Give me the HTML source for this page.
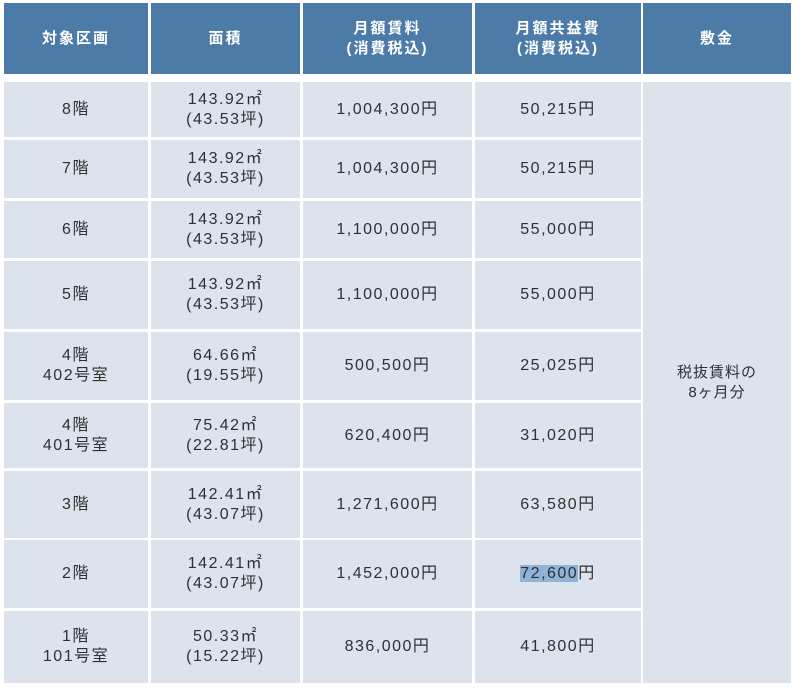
<!DOCTYPE html>
<html>
<head>
<meta charset="utf-8">
<style>
  html, body { margin: 0; padding: 0; background: #ffffff; }
  body { width: 800px; height: 689px; position: relative; overflow: hidden;
         font-family: "Liberation Sans", "Noto Sans CJK JP", sans-serif; }
  .c { position: absolute; display: flex; align-items: center; justify-content: center;
       text-align: center; box-sizing: border-box; }
  .h { background: #4b7ba6; color: #ffffff; font-weight: bold; font-size: 15px;
       letter-spacing: 2px; line-height: 20px; }
  .b { background: #dce3ed; color: #303030; font-size: 16px; letter-spacing: 1.5px;
       line-height: 20px; }
  .hl { background: #8fb3d6; }
</style>
</head>
<body>
<!-- header -->
<div class="c h" style="left:4px;top:3px;width:144px;height:71px;">対象区画</div>
<div class="c h" style="left:151px;top:3px;width:149px;height:71px;">面積</div>
<div class="c h" style="left:303px;top:3px;width:169px;height:71px;">月額賃料<br>(消費税込)</div>
<div class="c h" style="left:475px;top:3px;width:166px;height:71px;">月額共益費<br>(消費税込)</div>
<div class="c h" style="left:643px;top:3px;width:148px;height:71px;">敷金</div>

<!-- row 1 -->
<div class="c b" style="left:4px;top:82px;width:144px;height:55px;">8階</div>
<div class="c b" style="left:151px;top:82px;width:149px;height:55px;">143.92㎡<br>(43.53坪)</div>
<div class="c b" style="left:303px;top:82px;width:169px;height:55px;">1,004,300円</div>
<div class="c b" style="left:475px;top:82px;width:166px;height:55px;">50,215円</div>

<!-- row 2 -->
<div class="c b" style="left:4px;top:140px;width:144px;height:58px;">7階</div>
<div class="c b" style="left:151px;top:140px;width:149px;height:58px;">143.92㎡<br>(43.53坪)</div>
<div class="c b" style="left:303px;top:140px;width:169px;height:58px;">1,004,300円</div>
<div class="c b" style="left:475px;top:140px;width:166px;height:58px;">50,215円</div>

<!-- row 3 -->
<div class="c b" style="left:4px;top:201px;width:144px;height:57px;">6階</div>
<div class="c b" style="left:151px;top:201px;width:149px;height:57px;">143.92㎡<br>(43.53坪)</div>
<div class="c b" style="left:303px;top:201px;width:169px;height:57px;">1,100,000円</div>
<div class="c b" style="left:475px;top:201px;width:166px;height:57px;">55,000円</div>

<!-- row 4 -->
<div class="c b" style="left:4px;top:261px;width:144px;height:68px;">5階</div>
<div class="c b" style="left:151px;top:261px;width:149px;height:68px;">143.92㎡<br>(43.53坪)</div>
<div class="c b" style="left:303px;top:261px;width:169px;height:68px;">1,100,000円</div>
<div class="c b" style="left:475px;top:261px;width:166px;height:68px;">55,000円</div>

<!-- row 5 -->
<div class="c b" style="left:4px;top:332px;width:144px;height:68px;">4階<br>402号室</div>
<div class="c b" style="left:151px;top:332px;width:149px;height:68px;">64.66㎡<br>(19.55坪)</div>
<div class="c b" style="left:303px;top:332px;width:169px;height:68px;">500,500円</div>
<div class="c b" style="left:475px;top:332px;width:166px;height:68px;">25,025円</div>

<!-- row 6 -->
<div class="c b" style="left:4px;top:403px;width:144px;height:65px;">4階<br>401号室</div>
<div class="c b" style="left:151px;top:403px;width:149px;height:65px;">75.42㎡<br>(22.81坪)</div>
<div class="c b" style="left:303px;top:403px;width:169px;height:65px;">620,400円</div>
<div class="c b" style="left:475px;top:403px;width:166px;height:65px;">31,020円</div>

<!-- row 7 -->
<div class="c b" style="left:4px;top:471px;width:144px;height:67px;">3階</div>
<div class="c b" style="left:151px;top:471px;width:149px;height:67px;">142.41㎡<br>(43.07坪)</div>
<div class="c b" style="left:303px;top:471px;width:169px;height:67px;">1,271,600円</div>
<div class="c b" style="left:475px;top:471px;width:166px;height:67px;">63,580円</div>

<!-- row 8 -->
<div class="c b" style="left:4px;top:540px;width:144px;height:68px;">2階</div>
<div class="c b" style="left:151px;top:540px;width:149px;height:68px;">142.41㎡<br>(43.07坪)</div>
<div class="c b" style="left:303px;top:540px;width:169px;height:68px;">1,452,000円</div>
<div class="c b" style="left:475px;top:540px;width:166px;height:68px;"><span><span class="hl">72,600</span>円</span></div>

<!-- row 9 -->
<div class="c b" style="left:4px;top:611px;width:144px;height:72px;">1階<br>101号室</div>
<div class="c b" style="left:151px;top:611px;width:149px;height:72px;">50.33㎡<br>(15.22坪)</div>
<div class="c b" style="left:303px;top:611px;width:169px;height:72px;">836,000円</div>
<div class="c b" style="left:475px;top:611px;width:166px;height:72px;">41,800円</div>

<!-- merged deposit column -->
<div class="c b" style="left:643px;top:82px;width:148px;height:601px;font-size:15px;letter-spacing:1px;">税抜賃料の<br>8ヶ月分</div>
</body>
</html>
